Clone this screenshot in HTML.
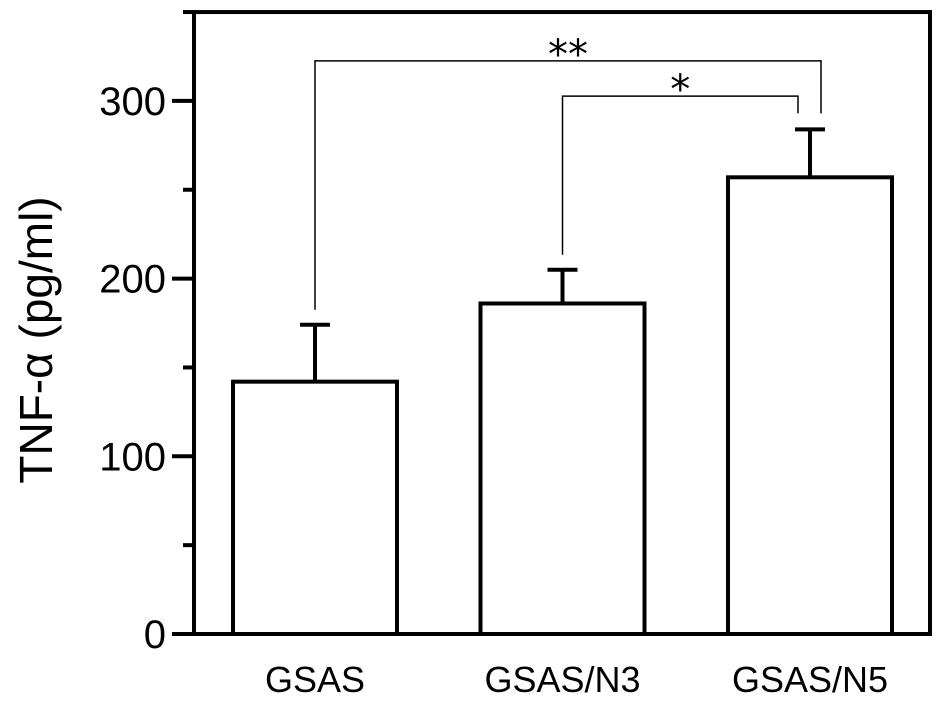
<!DOCTYPE html>
<html><head><meta charset="utf-8"><style>body{margin:0;background:#fff}svg{display:block}</style></head>
<body>
<svg id="chart" width="945" height="705" xmlns="http://www.w3.org/2000/svg" font-family="Liberation Sans, sans-serif"></svg>
<script>
const categories = ["GSAS", "GSAS/N3", "GSAS/N5"];
const means = [142, 186, 257];
const errors = [32, 19, 27];
const majorTicks = [0, 100, 200, 300];
const minorTicks = [50, 150, 250, 350];
const sigPairs = [[0, 2, "**", 322.5], [1, 2, "*", 302.7]];

const NS = "http://www.w3.org/2000/svg";
const svg = document.getElementById("chart");
const X0 = 194, X1 = 930, Y0 = 634, PX = 1.777;
const y = v => Y0 - v * PX;
const xc = i => 315 + i * 247.5;
const BW = 164;
function mk(tag, attrs, parent) {
  const e = document.createElementNS(NS, tag);
  for (const k in attrs) e.setAttribute(k, attrs[k]);
  (parent || svg).appendChild(e);
  return e;
}
const frame = mk("rect", {x: X0, y: y(350), width: X1 - X0, height: Y0 - y(350), fill: "none", stroke: "#000", "stroke-width": 4});


majorTicks.forEach(t => {
  const l = mk("line", {x1: X0 - 22, x2: X0, y1: y(t), y2: y(t), stroke: "#000", "stroke-width": 4});
  
  
  const tx = mk("text", {x: X0 - 28, y: y(t) + 14, "text-anchor": "end", "font-size": 40});
  tx.textContent = t;
  
  
});
minorTicks.forEach(t => {
  const l = mk("line", {x1: X0 - 11, x2: X0, y1: y(t), y2: y(t), stroke: "#000", "stroke-width": 4});
  
  
});
const yt = mk("text", {x: 52, y: 340, "text-anchor": "middle", "font-size": 46, transform: "rotate(-90 52 340)"});
yt.textContent = "TNF-α (pg/ml)";


categories.forEach((c, i) => {
  const cx = xc(i);
  const eb = mk("path", {d: `M${cx} ${y(means[i])}V${y(means[i] + errors[i])}M${cx - 15} ${y(means[i] + errors[i])}H${cx + 15}`, stroke: "#000", "stroke-width": 4, fill: "none"});
  
  
  const b = mk("rect", {x: cx - BW / 2, y: y(means[i]), width: BW, height: Y0 - y(means[i]), fill: "#fff", stroke: "#000", "stroke-width": 4});
  
  
  const t = mk("text", {x: cx, y: 692, "text-anchor": "middle", "font-size": 36});
  t.textContent = c;
  
  
});
sigPairs.forEach(([a, b, s, lv], k) => {
  const ya = y(lv);
  const xa = xc(a), xb = xc(b) + (k === 0 ? 11 : -12);
  const p = mk("path", {d: `M${xa} ${y(means[a] + errors[a]) - 15}V${ya}H${xb}V${y(means[b] + errors[b]) - 16}`, stroke: "#000", "stroke-width": 1.5, fill: "none"});
  
  
  const t = mk("text", {x: (xa + xb) / 2, y: ya + 7, "text-anchor": "middle", "font-size": 40, "font-family": "DejaVu Sans, sans-serif"});
  t.textContent = s;
  
  
});
</script>
</body></html>
